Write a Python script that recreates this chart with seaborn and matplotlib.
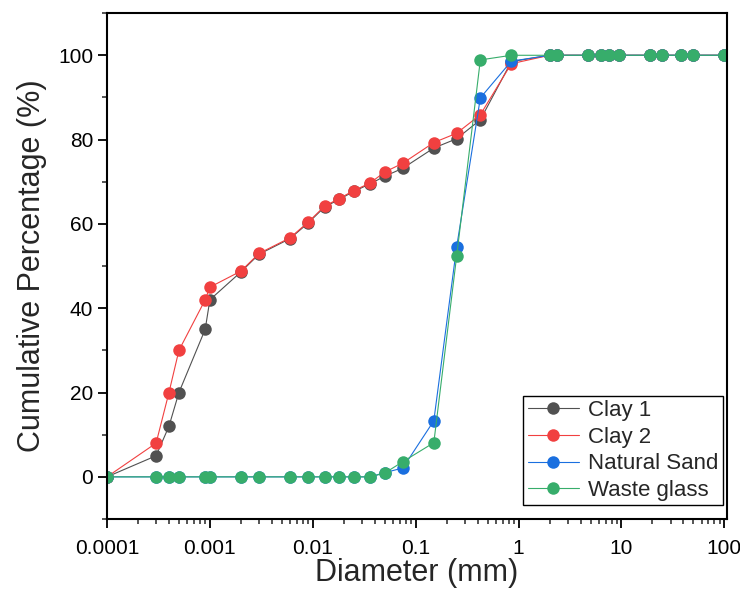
import matplotlib
matplotlib.use("Agg")
import matplotlib.pyplot as plt
import matplotlib.ticker as mticker
import pandas as pd
import seaborn as sns

# %% Data
diameter = [0.0001, 0.0003, 0.0004, 0.0005, 0.0009, 0.001, 0.002, 0.003, 0.006, 0.009,
            0.013, 0.018, 0.025, 0.036, 0.05, 0.075, 0.15, 0.25, 0.425, 0.85,
            2, 2.36, 4.75, 6.3, 7.5, 9.5, 19, 25, 37.5, 50, 100]

clay1 = [0, 5, 12, 20, 35, 42, 48.6, 52.8, 56.5, 60.2, 64.0, 65.8, 67.7, 69.5, 71.3,
         73.2, 78.0, 80.2, 84.7, 98.5] + [100] * 11
clay2 = [0, 8, 20, 30, 42, 45, 48.8, 53.0, 56.7, 60.4, 64.2, 66.0, 67.9, 69.7, 72.3,
         74.4, 79.3, 81.5, 85.9, 98.0] + [100] * 11
natural_sand = [0] * 14 + [1.0, 2.1, 13.3, 54.5, 89.9, 98.6] + [100] * 11
waste_glass = [0] * 14 + [0.9, 3.6, 8.1, 52.3, 98.9, 100] + [100] * 11

samples = ["Clay 1", "Clay 2", "Natural Sand", "Waste glass"]
colors = ["#515151", "#F14040", "#1A6FDF", "#37AD6B"]
x_tick_values = [0.0001, 0.001, 0.01, 0.1, 1, 10, 100]
x_tick_labels = ["0.0001", "0.001", "0.01", "0.1", "1", "10", "100"]

df = pd.DataFrame({
    "Diameter": diameter * 4,
    "Percent": clay1 + clay2 + natural_sand + waste_glass,
    "Sample": [s for s in samples for _ in diameter],
})

# %% Plot
sns.set_style("ticks")
plt.rcParams["font.family"] = ["Liberation Sans", "DejaVu Sans"]

fig = plt.figure(figsize=(7.4, 5.91), dpi=100)
ax = fig.add_axes([0.1446, 0.1218, 0.8378, 0.856])

sns.lineplot(data=df, x="Diameter", y="Percent", hue="Sample", hue_order=samples,
             palette=colors, marker="o", markersize=9, markeredgewidth=0,
             linewidth=0.8, estimator=None, sort=False, ax=ax)

ax.set_xscale("log")
ax.set_xlim(1e-4, 106)
ax.set_ylim(-10, 110)
ax.xaxis.set_major_locator(mticker.FixedLocator(x_tick_values))
ax.xaxis.set_major_formatter(mticker.FixedFormatter(x_tick_labels))
ax.xaxis.set_minor_locator(mticker.LogLocator(base=10, subs=range(2, 10), numticks=20))
ax.xaxis.set_minor_formatter(mticker.NullFormatter())
ax.yaxis.set_major_locator(mticker.MultipleLocator(20))
ax.yaxis.set_minor_locator(mticker.MultipleLocator(10))

ax.tick_params(which="major", direction="out", length=6.5, width=1.3, labelsize=15, colors="black")
ax.tick_params(axis="x", which="major", pad=8)
ax.tick_params(which="minor", direction="out", length=3.5, width=1.1)
for side in ["top", "right", "bottom", "left"]:
    ax.spines[side].set_visible(True)
    ax.spines[side].set_linewidth(1.5)
    ax.spines[side].set_color("black")

ax.set_xlabel("Diameter (mm)", fontsize=22, labelpad=0)
ax.set_ylabel("Cumulative Percentage (%)", fontsize=22, labelpad=8)

handles, labels = ax.get_legend_handles_labels()
leg = ax.legend(handles, labels, loc="lower right", bbox_to_anchor=(0.993, 0.027),
                fontsize=16, frameon=True, fancybox=False, edgecolor="black",
                framealpha=1, labelspacing=0.25, handlelength=2.3, handletextpad=0.4,
                borderpad=0.2, borderaxespad=0)
leg.get_frame().set_linewidth(1.0)

fig.savefig("out.png", dpi=100)
